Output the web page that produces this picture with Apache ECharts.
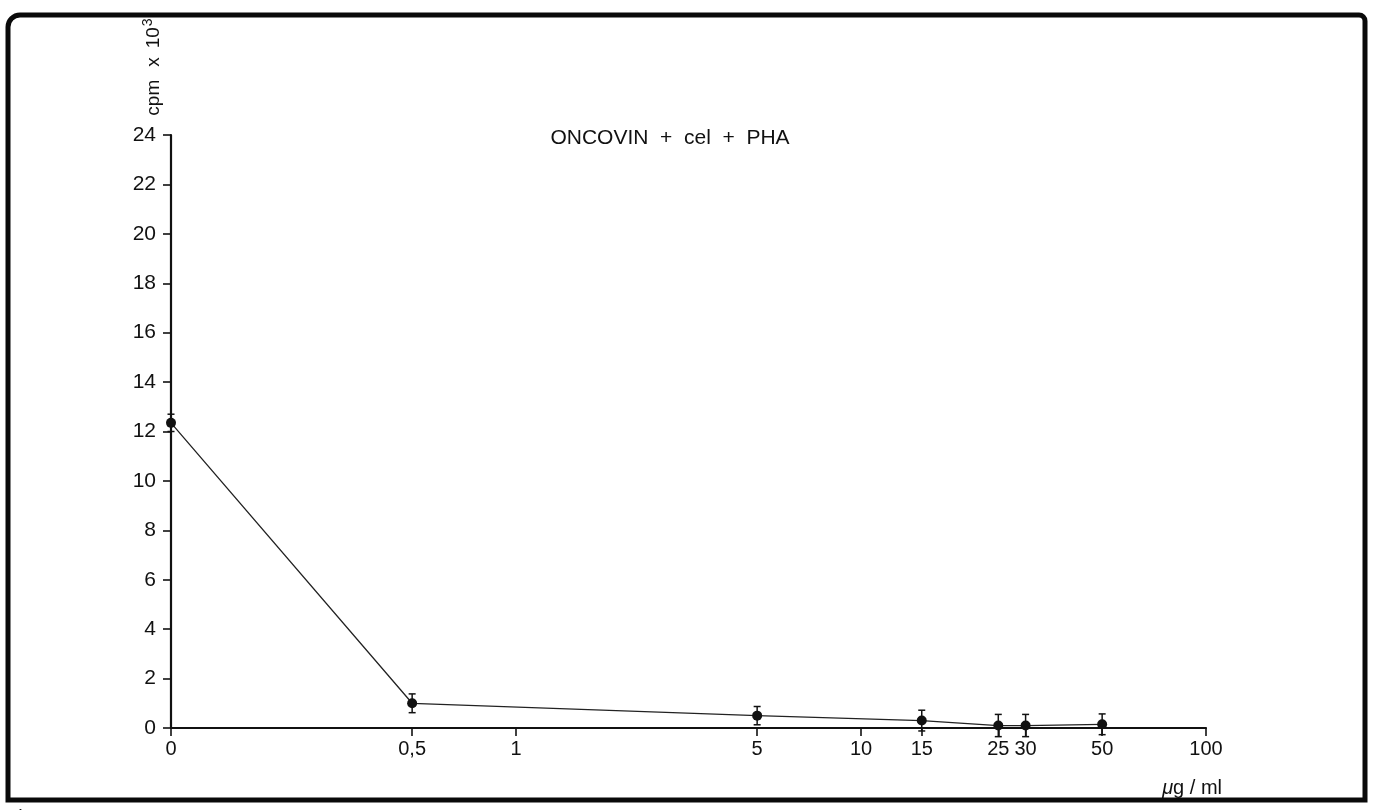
<!DOCTYPE html>
<html>
<head>
<meta charset="utf-8">
<script src="https://cdn.jsdelivr.net/npm/echarts@6/dist/echarts.min.js"></script>
<style>
html,body{margin:0;padding:0;background:#fff;}
#chart{width:1373px;height:810px;}
</style>
</head>
<body>
<div id="chart"></div>
<script>
// ---- data ----
const doses = [0, 0.5, 5, 15, 25, 30, 50];            // µg/ml
const cpm = [12.35, 1.0, 0.5, 0.3, 0.1, 0.1, 0.15];    // cpm x 10^3
const errs = [0.35, 0.38, 0.37, 0.42, 0.45, 0.45, 0.42];
const tickDoses = [0, 0.5, 1, 5, 10, 15, 25, 30, 50, 100];
const tickLabels = ['0', '0,5', '1', '5', '10', '15', '25', '30', '50', '100'];
const chartTitle = 'ONCOVIN  +  cel  +  PHA';
const xName = 'g / ml';

// log-dose scale; dose 0 is drawn one decade below 1 (at the 0.1 position)
function pos(d) { return d === 0 ? -1 : Math.log10(d); }
const tickPos = tickDoses.map(pos);

const FONT = '"Liberation Sans", Arial, Helvetica, sans-serif';
const INK = '#111';

const chart = echarts.init(document.getElementById('chart'), null, {renderer: 'canvas'});

const lineData = doses.map((d, i) => [pos(d), cpm[i]]);
const errData = doses.map((d, i) => [pos(d), cpm[i], errs[i]]);

chart.setOption({
  backgroundColor: '#fff',
  animation: false,
  grid: {left: 171, top: 135, width: 1035, height: 593, containLabel: false},
  xAxis: {
    type: 'value', min: -1, max: 2,
    axisLine: {show: true, onZero: false, lineStyle: {color: INK, width: 2.2}},
    axisTick: {show: true, customValues: tickPos, length: 8, lineStyle: {color: INK, width: 1.6}},
    axisLabel: {
      customValues: tickPos, margin: 11, fontSize: 20, fontFamily: FONT, color: INK,
      formatter: function (v) {
        let best = 0, bd = Infinity;
        tickPos.forEach((p, i) => { const dd = Math.abs(p - v); if (dd < bd) { bd = dd; best = i; } });
        return tickLabels[best];
      }
    },
    splitLine: {show: false}
  },
  yAxis: {
    type: 'value', min: 0, max: 24, interval: 2,
    axisLine: {show: true, onZero: false, lineStyle: {color: INK, width: 2.2}},
    axisTick: {show: true, length: 8, lineStyle: {color: INK, width: 1.6}},
    axisLabel: {margin: 15, fontSize: 21, fontFamily: FONT, color: INK},
    splitLine: {show: false}
  },
  series: [
    {
      type: 'custom',
      clip: false,
      z: 3,
      data: errData,
      renderItem: function (params, api) {
        const x = api.value(0), y = api.value(1), e = api.value(2);
        const top = api.coord([x, y + e]);
        const bot = api.coord([x, y - e]);
        const cap = 3.5;
        const st = {stroke: INK, lineWidth: 1.5};
        return {
          type: 'group',
          children: [
            {type: 'line', shape: {x1: top[0], y1: top[1], x2: bot[0], y2: bot[1]}, style: st},
            {type: 'line', shape: {x1: top[0] - cap, y1: top[1], x2: top[0] + cap, y2: top[1]}, style: st},
            {type: 'line', shape: {x1: bot[0] - cap, y1: bot[1], x2: bot[0] + cap, y2: bot[1]}, style: st}
          ]
        };
      }
    },
    {
      type: 'line',
      z: 4,
      data: lineData,
      symbol: 'circle',
      symbolSize: 10,
      itemStyle: {color: INK},
      lineStyle: {color: '#222', width: 1.3}
    }
  ],
  graphic: [
    {
      type: 'rect', z: 10,
      shape: {x: 8, y: 15, width: 1357, height: 785, r: [12, 6, 0, 0]},
      style: {fill: 'none', stroke: '#0a0a0a', lineWidth: 5}
    },
    {
      type: 'text', z: 10, left: 6, top: 808,
      style: {text: 'Figure 2', font: '20px ' + FONT, fill: '#222'}
    },
    {
      type: 'text', z: 10, x: 670, y: 138,
      style: {text: chartTitle, font: '21px ' + FONT, fill: INK, align: 'center', verticalAlign: 'middle'}
    },
    {
      type: 'text', z: 10, x: 1222, y: 788,
      style: {
        text: '{m|μ}{n|' + xName + '}',
        align: 'right', verticalAlign: 'middle',
        rich: {
          m: {font: 'italic 20px ' + FONT, fill: INK},
          n: {font: '20px ' + FONT, fill: INK}
        }
      }
    },
    {
      type: 'text', z: 10, x: 152, y: 67, rotation: Math.PI / 2,
      style: {
        text: '{a|cpm}{x|x}{a|10}{s|3}',
        align: 'center', verticalAlign: 'middle',
        rich: {
          a: {font: '19px ' + FONT, fill: INK, verticalAlign: 'bottom'},
          x: {font: '19px ' + FONT, fill: INK, verticalAlign: 'bottom', padding: [0, 9, 0, 13]},
          s: {font: '14px ' + FONT, fill: INK, verticalAlign: 'top', padding: [0, 0, 8, 1]}
        }
      }
    }
  ]
});
</script>
</body>
</html>
